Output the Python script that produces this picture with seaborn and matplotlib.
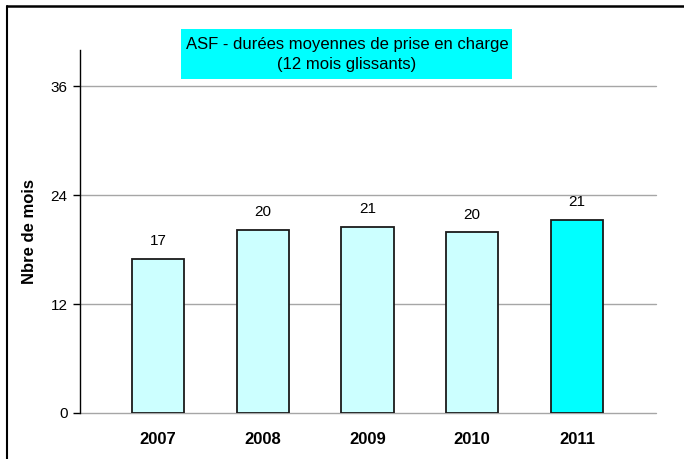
import matplotlib
matplotlib.use("Agg")
import matplotlib.pyplot as plt
import seaborn as sns
import pandas as pd
from matplotlib.patches import Rectangle
from matplotlib.lines import Line2D

years = ["2007", "2008", "2009", "2010", "2011"]
values = [17.0, 20.2, 20.5, 19.9, 21.3]
labels = ["17", "20", "21", "20", "21"]
colors = ["#CCFFFF", "#CCFFFF", "#CCFFFF", "#CCFFFF", "#00FFFF"]
yticks = [0, 12, 24, 36]

sns.set_style("white")
plt.rcParams["font.family"] = ["Liberation Sans", "DejaVu Sans"]
plt.rcParams["text.color"] = "black"
plt.rcParams["axes.labelcolor"] = "black"
plt.rcParams["xtick.color"] = "black"
plt.rcParams["ytick.color"] = "black"

df = pd.DataFrame({"year": years, "value": values})

W, H = 684, 459
fig = plt.figure(figsize=(6.84, 4.59), dpi=100)
ax = fig.add_axes([80/W, 46/H, 576/W, 363/H])

sns.barplot(data=df, x="year", y="value", hue="year", palette=colors,
            legend=False, width=0.5, edgecolor="#1a1a1a", linewidth=1.3,
            saturation=1, ax=ax, zorder=3)

ax.set_ylim(0, 40)
ax.set_xlim(-0.745, 4.755)
ax.set_yticks(yticks)
ax.set_yticklabels([str(t) for t in yticks], fontsize=11)
for t in yticks:
    ax.axhline(t, color="#A6A6A6", linewidth=1, zorder=1, clip_on=False)

for i, (v, lab) in enumerate(zip(values, labels)):
    ax.text(i, v + 1.2, lab, ha="center", va="bottom", fontsize=11)

ax.set_xlabel("")
ax.set_ylabel("Nbre de mois", fontsize=12, fontweight="bold", labelpad=10)
ax.set_xticks(range(len(years)))
ax.set_xticklabels(years, fontsize=12, fontweight="bold")
ax.tick_params(axis="x", length=0, pad=14)
ax.tick_params(axis="y", direction="out", length=5, width=1, color="black", left=True, pad=4)

for s in ["top", "right", "bottom"]:
    ax.spines[s].set_visible(False)
ax.spines["left"].set_color("black")
ax.spines["left"].set_linewidth(1)

# Title box
fig.patches.append(Rectangle((181/W, 1 - 79/H), 331/W, 50/H, transform=fig.transFigure,
                             facecolor="#00FFFF", edgecolor="none", zorder=0))
fig.text(347/W, 1 - 45/H, "ASF - durées moyennes de prise en charge",
         ha="center", va="center", fontsize=12)
fig.text(347/W, 1 - 64/H, "(12 mois glissants)",
         ha="center", va="center", fontsize=12)

# outer border (top and left visible)
fig.add_artist(Line2D([7/W, 1], [1 - 5.5/H, 1 - 5.5/H], transform=fig.transFigure,
                      color="black", linewidth=1.8))
fig.add_artist(Line2D([7/W, 7/W], [0, 1 - 5.5/H], transform=fig.transFigure,
                      color="black", linewidth=1.5))

fig.savefig("out.png", dpi=100)
